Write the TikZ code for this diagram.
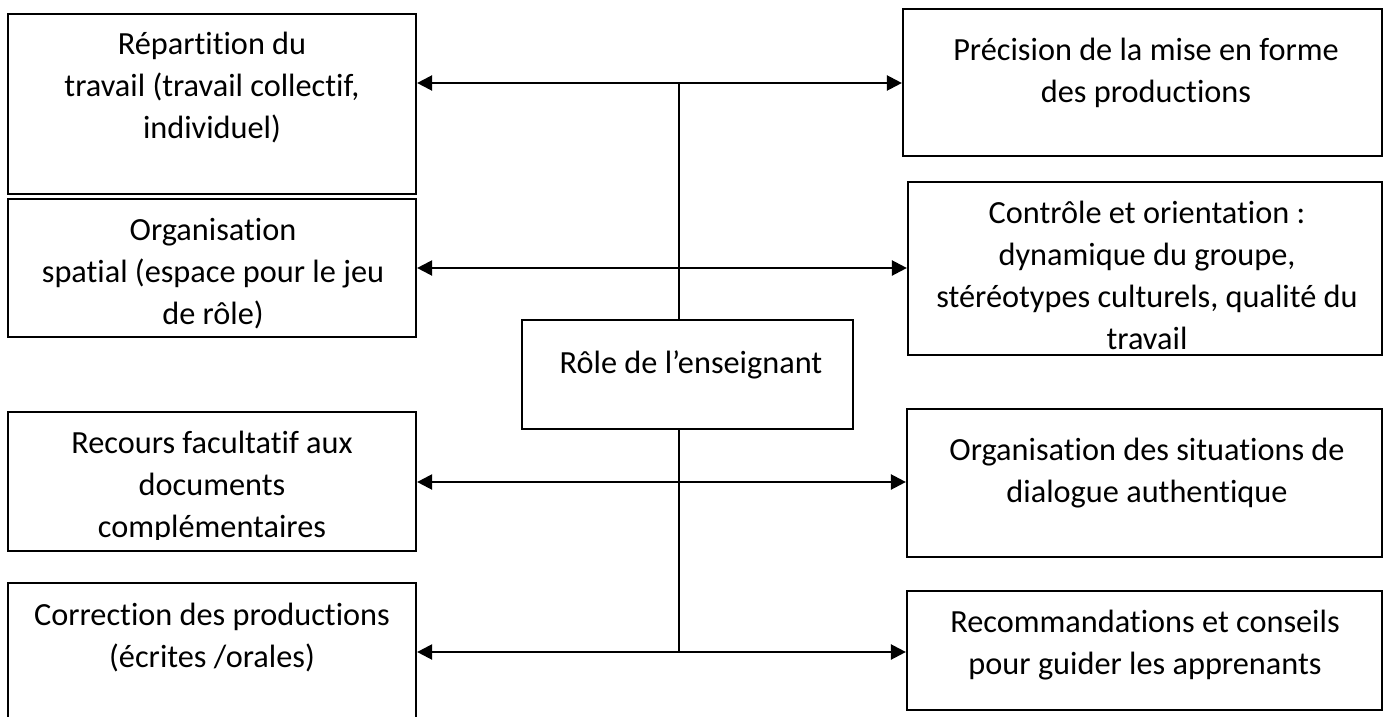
\documentclass[tikz,border=0pt]{standalone}
\usepackage{fontspec}
\setmainfont{Carlito}[RawFeature={-liga;-calt}]
\usetikzlibrary{arrows.meta}
\begin{document}
\begin{tikzpicture}[x=1pt,y=-1pt,
  box/.style={draw, line width=2.2pt, inner sep=0pt},
  txt/.style={font=\fontsize{32.3}{42}\selectfont, align=flush center, anchor=base, inner sep=0pt, text width=470pt},
  link/.style={line width=2.3pt},
  arr/.style={line width=2.3pt, -{Triangle[length=15pt,width=15pt]}}]
\useasboundingbox (0,0) rectangle (1386,717);
\fill[white] (0,0) rectangle (1386,717);
% boxes
\node[box, minimum width=408pt, minimum height=180pt] (L1) at (212,104) {};
\node[box, minimum width=408pt, minimum height=138pt] (L2) at (212,268) {};
\node[box, minimum width=408pt, minimum height=139pt] (L3) at (212,481.5) {};
\node[box, minimum width=408pt, minimum height=147pt] (L4) at (212,656.5) {};
\node[box, minimum width=331pt, minimum height=109pt] (C) at (687.5,374.5) {};
\node[box, minimum width=479pt, minimum height=147pt] (R1) at (1142.5,82.5) {};
\node[box, minimum width=474pt, minimum height=173pt] (R2) at (1145,268.5) {};
\node[box, minimum width=475pt, minimum height=148pt] (R3) at (1144.5,483) {};
\node[box, minimum width=475pt, minimum height=119pt] (R4) at (1144.5,650.5) {};
% texts
\node[txt] (L1t) at (212,55) {Répartition du\\travail (travail collectif,\\individuel)};
\node[txt] (L2t) at (213,240) {Organisation\\spatial (espace pour le jeu\\de rôle)};
\begin{scope}
\clip (8,400) rectangle (416,539);
\node[txt] (L3t) at (212,453) {Recours facultatif aux\\documents\\complémentaires};
\end{scope}
\node[txt] (L4t) at (212,625) {Correction des productions\\(écrites /orales)};
\node[txt] (Ct) at (691,373) {Rôle de l’enseignant};
\node[txt] (R1t) at (1146,60) {Précision de la mise en forme\\des productions};
\node[txt] (R2t) at (1147,223) {Contrôle et orientation :\\dynamique du groupe,\\stéréotypes culturels, qualité du\\travail};
\node[txt] (R3t) at (1147,460) {Organisation des situations de\\dialogue authentique};
\node[txt] (R4t) at (1145,632) {Recommandations et conseils\\pour guider les apprenants};
% connectors
\coordinate (j1) at (679,83);
\coordinate (j2) at (679,268);
\coordinate (j3) at (679,482);
\coordinate (j4) at (679,652);
\draw[link] (j1 |- C.north) -- (j1);
\draw[link] (j4 |- C.south) -- (j4);
\draw[arr] (j1) -- (j1 -| L1.east);
\draw[arr] (j1) -- (j1 -| R1.west);
\draw[arr] (j2) -- (j2 -| L2.east);
\draw[arr] (j2) -- (j2 -| R2.west);
\draw[arr] (j3) -- (j3 -| L3.east);
\draw[arr] (j3) -- (j3 -| R3.west);
\draw[arr] (j4) -- (j4 -| L4.east);
\draw[arr] (j4) -- (j4 -| R4.west);
\end{tikzpicture}
\end{document}
